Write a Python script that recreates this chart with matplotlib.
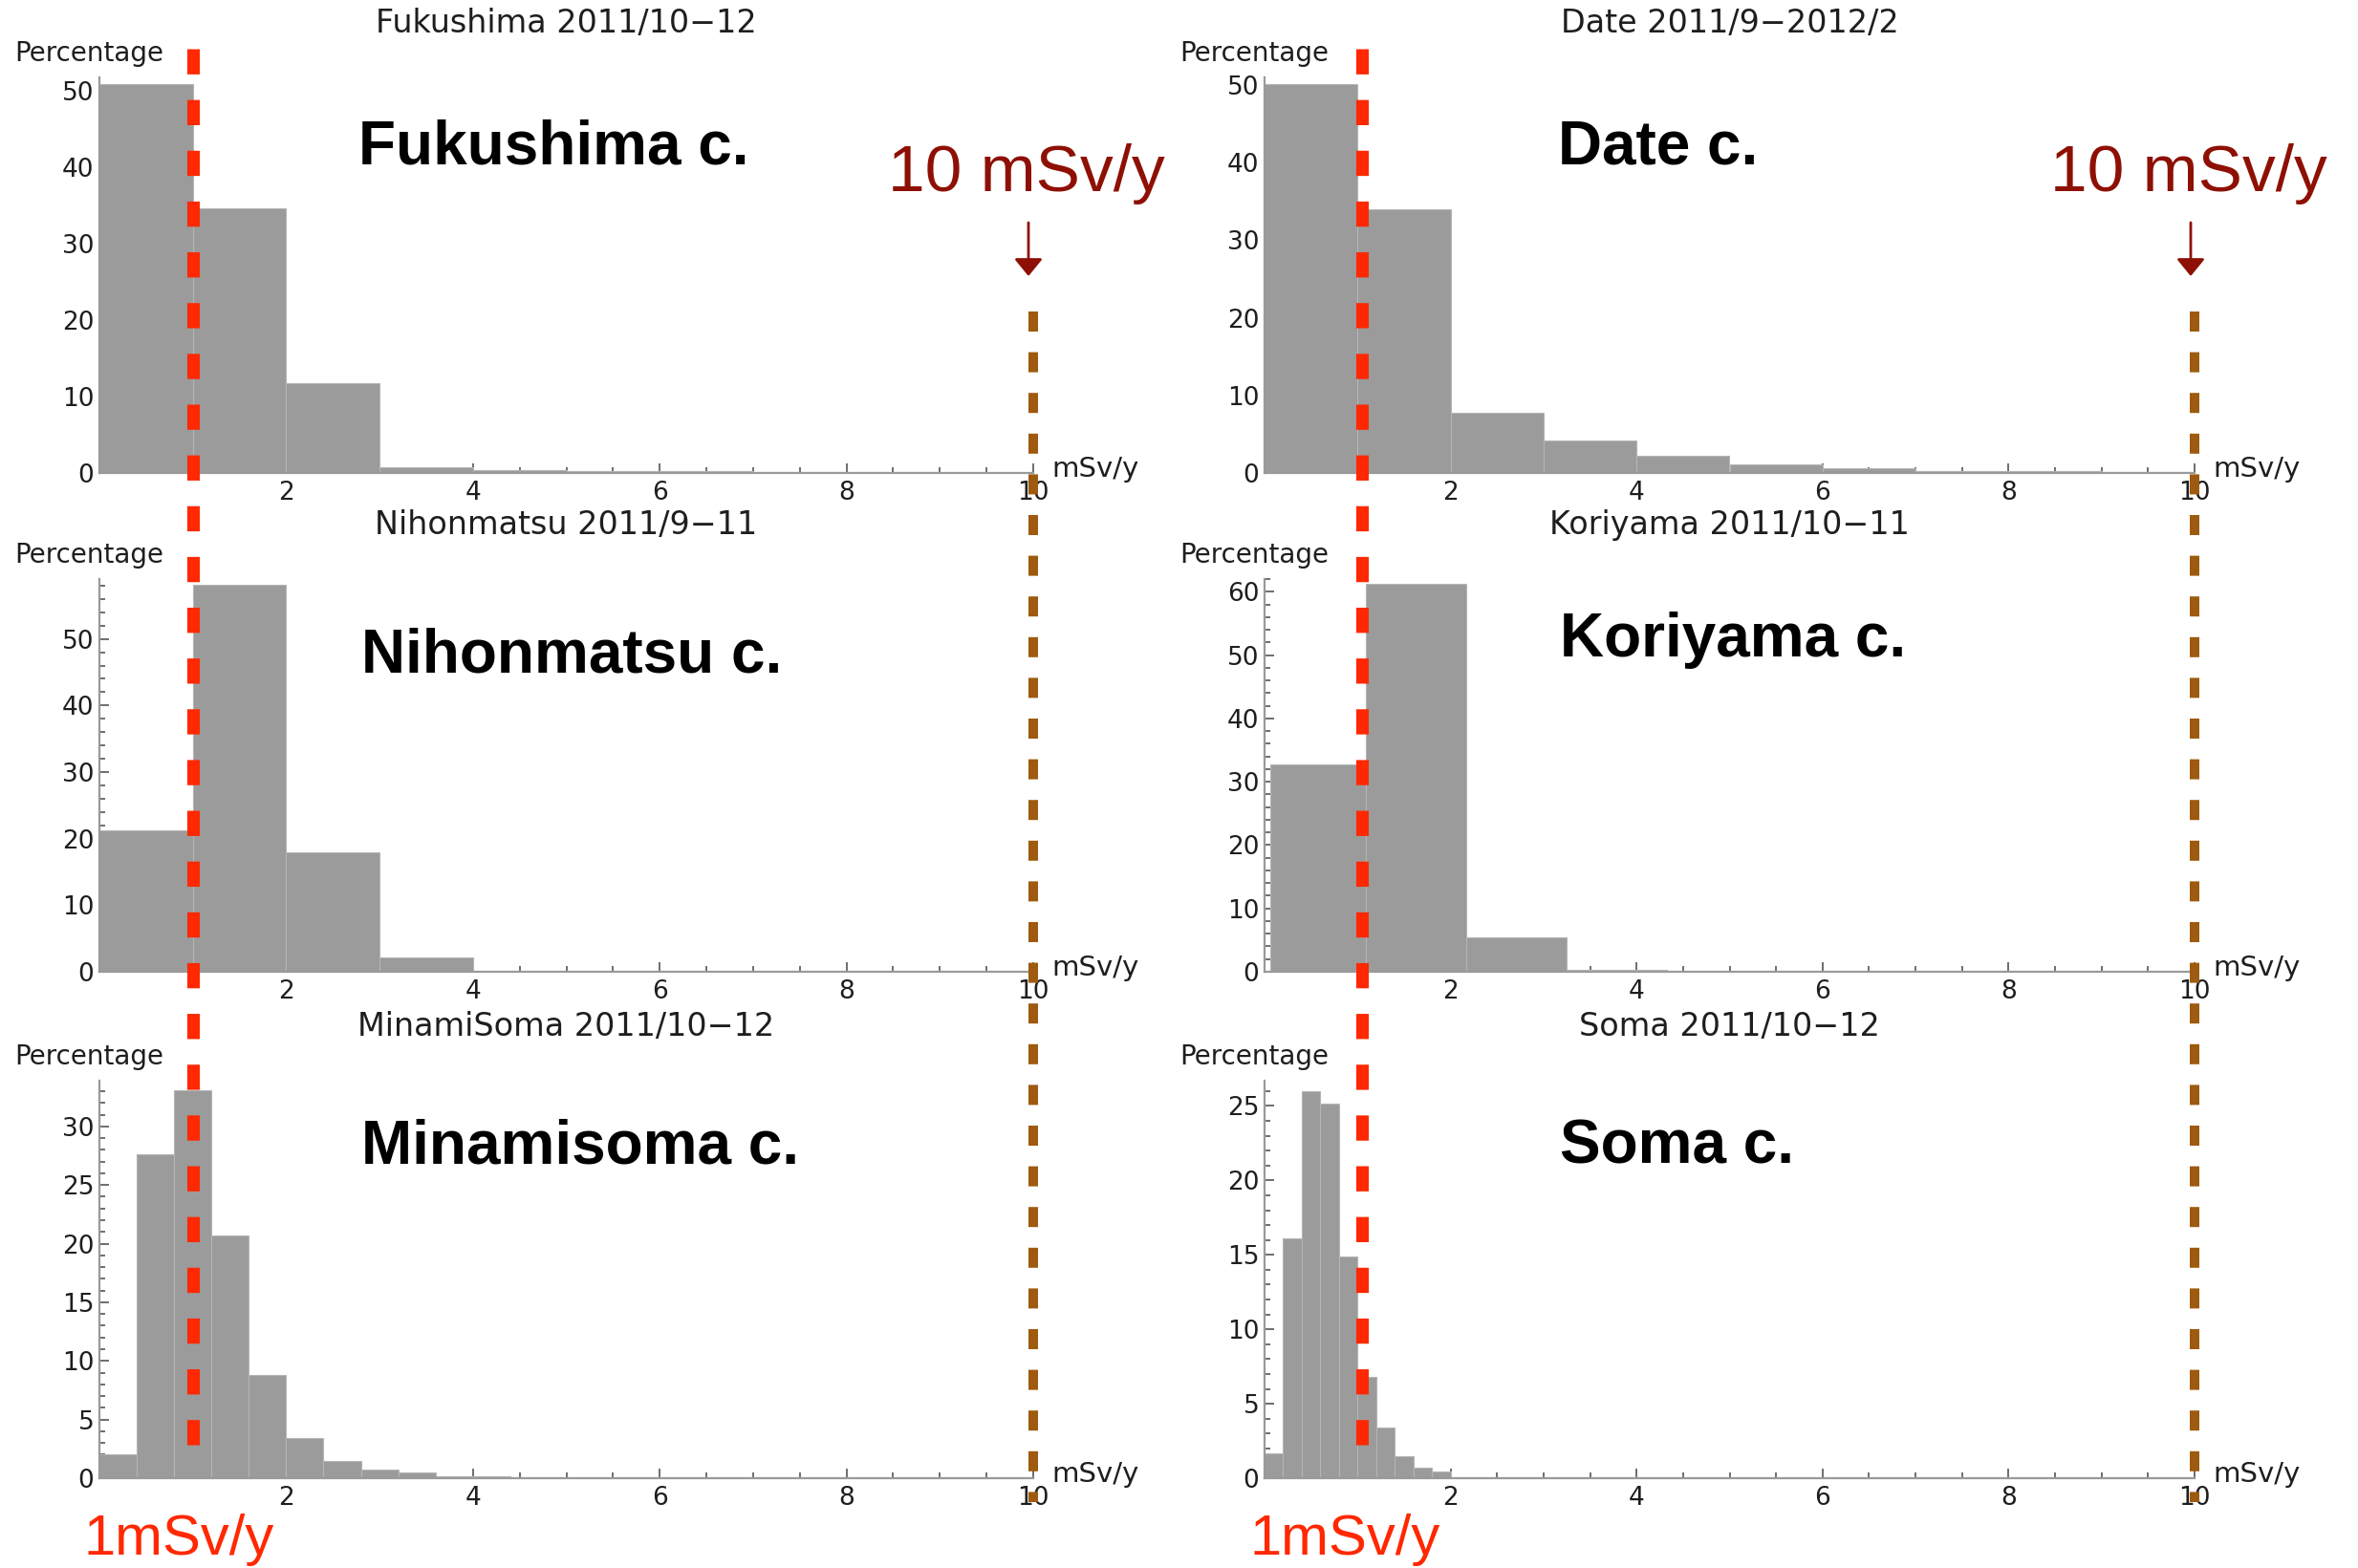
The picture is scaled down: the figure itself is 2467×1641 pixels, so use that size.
import numpy as np
import matplotlib
matplotlib.use('Agg')
import matplotlib.pyplot as plt
from matplotlib.lines import Line2D
from matplotlib.transforms import blended_transform_factory
from matplotlib.ticker import MultipleLocator, FixedLocator

W, H = 2467, 1641

# percentage of people per annual external dose bin (mSv/y)
fukushima_edges = [0, 1, 2, 3, 4, 5, 6, 7, 8, 9]
fukushima_pct = [50.9, 34.6, 11.7, 0.8, 0.35, 0.25, 0.2, 0.15, 0.1]
date_edges = [0, 1, 2, 3, 4, 5, 6, 7, 8, 9, 10]
date_pct = [50.1, 34.0, 7.8, 4.2, 2.2, 1.05, 0.6, 0.3, 0.2, 0.1]
nihonmatsu_edges = [0, 1, 2, 3, 4]
nihonmatsu_pct = [21.2, 58.2, 17.9, 2.2]
koriyama_edges = [0.065, 1.087, 2.167, 3.247, 4.33]
koriyama_pct = [32.7, 61.3, 5.5, 0.25]
minamisoma_edges = [0, 0.4, 0.8, 1.2, 1.6, 2.0, 2.4, 2.8, 3.2, 3.6, 4.0, 4.4]
minamisoma_pct = [2.05, 27.6, 33.1, 20.7, 8.8, 3.4, 1.5, 0.7, 0.5, 0.2, 0.15]
soma_edges = [0, 0.2, 0.4, 0.6, 0.8, 1.0, 1.2, 1.4, 1.6, 1.8, 2.0]
soma_pct = [1.7, 16.1, 26.0, 25.15, 14.9, 6.8, 3.4, 1.45, 0.7, 0.43]

titles = ['Fukushima 2011/10\u221212', 'Date 2011/9\u22122012/2',
          'Nihonmatsu 2011/9\u221211', 'Koriyama 2011/10\u221211',
          'MinamiSoma 2011/10\u221212', 'Soma 2011/10\u221212']
city_labels = ['Fukushima c.', 'Date c.', 'Nihonmatsu c.', 'Koriyama c.',
               'Minamisoma c.', 'Soma c.']
edges_all = [fukushima_edges, date_edges, nihonmatsu_edges, koriyama_edges,
             minamisoma_edges, soma_edges]
pct_all = [fukushima_pct, date_pct, nihonmatsu_pct, koriyama_pct,
           minamisoma_pct, soma_pct]
y_max = [51.8, 51.0, 59.0, 62.0, 33.9, 26.7]
y_major = [10, 10, 10, 10, 5, 5]
y_minor = [2, 2, 2, 2, 1, 1]
limit_low = [1.0, 1.05]   # 1 mSv/y marker, left / right column
limit_high = 10           # 10 mSv/y marker

# layout in pixels
col_x = [(104, 1081), (1323, 2296)]
row_y = [(495, 81), (1017, 606), (1547, 1131)]
label_pos = [(375, 171), (1630, 171), (378, 704), (1632, 687), (378, 1217), (1632, 1217)]

RED = '#ff2800'
BROWN = '#9e5a0e'
DARKRED = '#8e1005'
BAR = '#9b9b9b'
AXC = '#9a9a9a'
TXT = '#1e1e1e'
small = 'DejaVu Sans'
big = 'Liberation Sans'

fig = plt.figure(figsize=(W / 100, H / 100), dpi=100)

axes = []
for i in range(6):
    r, c = divmod(i, 2)
    x0, x1 = col_x[c]
    yb, yt = row_y[r]
    ax = fig.add_axes([x0 / W, 1 - yb / H, (x1 - x0) / W, (yb - yt) / H])
    axes.append(ax)

    e = np.array(edges_all[i])
    ax.bar(e[:-1], pct_all[i], width=np.diff(e), align='edge', color=BAR,
           edgecolor='#b5b5b5', linewidth=0.8, zorder=2)

    ax.set_xlim(0, 10)
    ax.set_ylim(0, y_max[i])
    ax.patch.set_alpha(0)
    for s in ['top', 'right']:
        ax.spines[s].set_visible(False)
    for s in ['left', 'bottom']:
        ax.spines[s].set_color(AXC)
        ax.spines[s].set_linewidth(1.6)
        ax.spines[s].set_zorder(3)

    ax.xaxis.set_major_locator(FixedLocator([2, 4, 6, 8, 10]))
    ax.xaxis.set_minor_locator(MultipleLocator(0.5))
    ax.yaxis.set_major_locator(MultipleLocator(y_major[i]))
    ax.yaxis.set_minor_locator(MultipleLocator(y_minor[i]))
    ax.tick_params(which='both', direction='in', colors='#555555', width=1.2)
    ax.tick_params(which='major', length=7, labelsize=19, labelcolor=TXT)
    ax.tick_params(which='minor', length=4)
    ax.tick_params(axis='x', pad=6)
    ax.tick_params(axis='y', pad=4)
    for lab in ax.get_xticklabels() + ax.get_yticklabels():
        lab.set_family(small)

    ax.annotate(titles[i], xy=(0.5, 1), xycoords='axes fraction',
                xytext=(0, 41), textcoords='offset points', ha='center',
                va='center', fontsize=24, family=small, color=TXT)
    ax.annotate('Percentage', xy=(0, 1), xycoords='axes fraction',
                xytext=(-64, 18), textcoords='offset points', ha='left',
                va='center', fontsize=20, family=small, color=TXT)
    ax.annotate('mSv/y', xy=(1, 0), xycoords='axes fraction',
                xytext=(14, 3), textcoords='offset points', ha='left',
                va='center', fontsize=21, family=small, color=TXT)

    lx, ly = label_pos[i]
    fig.text(lx / W, 1 - ly / H, city_labels[i], fontsize=46, family=big,
             fontweight='bold', va='baseline', ha='left')

# dose limit lines running down each column
for c in range(2):
    ax = axes[c]
    tr = blended_transform_factory(ax.transData, fig.transFigure)
    red = Line2D([limit_low[c], limit_low[c]], [1 - 51 / H, 1 - 1517 / H],
                 transform=tr, color=RED, linewidth=9.4,
                 dashes=(2.02, 2.05), zorder=10)
    red.set_dash_capstyle('butt')
    fig.add_artist(red)
    brown = Line2D([limit_high, limit_high], [1 - 326 / H, 1 - 1572 / H],
                   transform=tr, color=BROWN, linewidth=7.2,
                   dashes=(2.1, 2.16), zorder=10)
    brown.set_dash_capstyle('butt')
    fig.add_artist(brown)

# annotations
for tx, ax_x in [(929, 1076), (2145, 2292)]:
    fig.text(tx / W, 1 - 200 / H, '10 mSv/y', fontsize=50, family=big,
             color=DARKRED, va='baseline', ha='left')
    fig.add_artist(matplotlib.patches.FancyArrowPatch(
        (ax_x, H - 233), (ax_x, H - 289), transform=None,
        arrowstyle='-|>,head_length=1.1,head_width=0.9', mutation_scale=10,
        color=DARKRED, linewidth=2, shrinkA=0, shrinkB=0))

for tx in [88, 1307]:
    fig.text(tx / W, 1 - 1627 / H, '1mSv/y', fontsize=43, family=big,
             color=RED, va='baseline', ha='left')

fig.savefig('out.png', dpi=100)
